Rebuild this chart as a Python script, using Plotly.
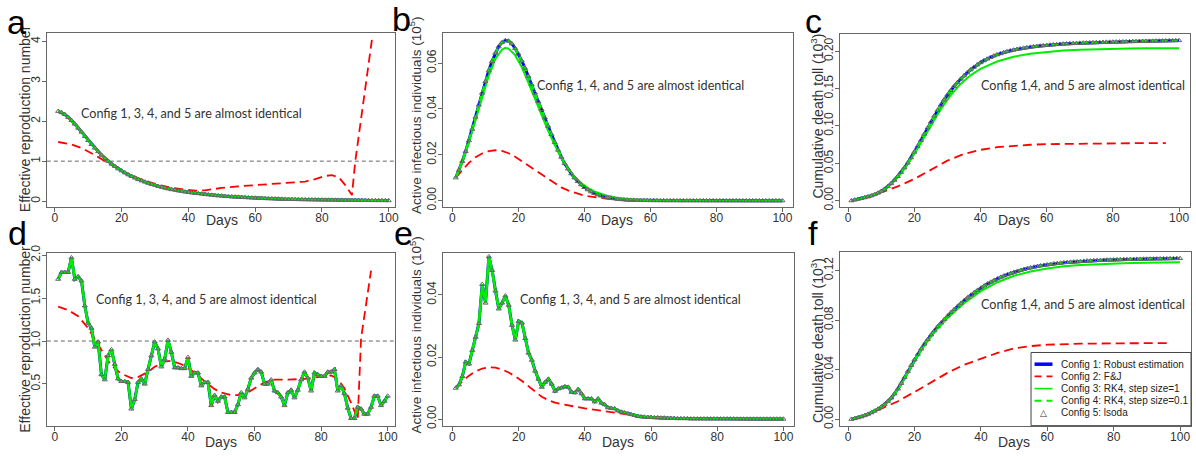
import plotly.graph_objects as go

W, H = 1196, 456

# ---------------- data ----------------
days = list(range(1, 101))

# Panel a: effective reproduction number (smooth scenario)
a_cfg1 = [2.25, 2.22, 2.17, 2.10, 2.02, 1.93, 1.83, 1.73, 1.62, 1.52,
          1.42, 1.33, 1.24, 1.15, 1.07, 1.00, 0.93, 0.87, 0.81, 0.76,
          0.71, 0.66, 0.62, 0.58, 0.54, 0.51, 0.48, 0.45, 0.42, 0.40,
          0.37, 0.35, 0.33, 0.31, 0.29, 0.28, 0.26, 0.25, 0.23, 0.22,
          0.21, 0.20, 0.19, 0.18, 0.17, 0.16, 0.15, 0.14, 0.135, 0.13,
          0.12, 0.115, 0.11, 0.105, 0.10, 0.095, 0.09, 0.085, 0.08, 0.076,
          0.072, 0.068, 0.065, 0.062, 0.059, 0.056, 0.053, 0.05, 0.048, 0.046,
          0.044, 0.042, 0.04, 0.038, 0.036, 0.034, 0.033, 0.032, 0.03, 0.029,
          0.028, 0.027, 0.026, 0.025, 0.024, 0.023, 0.022, 0.021, 0.02, 0.02,
          0.019, 0.018, 0.018, 0.017, 0.016, 0.016, 0.015, 0.015, 0.014, 0.014]
a_cfg2_days = [1, 5, 8, 10, 12, 15, 18, 20, 25, 30, 35, 40, 42, 45, 50, 55, 60, 65,
               70, 75, 78, 81, 83, 85, 87, 89, 90, 95]
a_cfg2 = [1.48, 1.42, 1.33, 1.25, 1.15, 1.0, 0.85, 0.76, 0.57, 0.43, 0.33, 0.27, 0.26,
          0.27, 0.33, 0.37, 0.40, 0.43, 0.45, 0.49, 0.55, 0.63, 0.65, 0.60, 0.40, 0.15,
          1.0, 4.05]

# Panel b: active infectious individuals (10^5)
b_cfg1 = [0.0100, 0.0133, 0.0172, 0.0215, 0.0262, 0.0312, 0.0365, 0.0418, 0.0470, 0.0520,
          0.0567, 0.0608, 0.0644, 0.0672, 0.0690, 0.0699, 0.0697, 0.0685, 0.0665, 0.0640,
          0.0610, 0.0578, 0.0543, 0.0507, 0.0470, 0.0433, 0.0398, 0.0362, 0.0325, 0.0289,
          0.0254, 0.0221, 0.0190, 0.0162, 0.0139, 0.0118, 0.0100, 0.0084, 0.0070, 0.0058,
          0.0048, 0.0039, 0.0032, 0.0026, 0.0021, 0.0017, 0.0014, 0.0011, 0.0009, 0.0007,
          0.00052, 0.00042, 0.00034, 0.00027, 0.00022, 0.00018, 0.00014, 0.00011, 0.00009, 0.00007,
          0.00006, 0.00005, 0.00004, 0.00003, 0.00003, 0.00002, 0.00002, 0.00002, 0.00001, 0.00001,
          0.00001, 0.00001, 0.00001, 0.00001, 0.00001, 0.0, 0.0, 0.0, 0.0, 0.0,
          0.0, 0.0, 0.0, 0.0, 0.0, 0.0, 0.0, 0.0, 0.0, 0.0,
          0.0, 0.0, 0.0, 0.0, 0.0, 0.0, 0.0, 0.0, 0.0, 0.0]
b_cfg3_days = [1, 3, 5, 7, 9, 11, 13, 15, 16, 17, 19, 21, 23, 25, 27, 29, 31, 33, 35, 37,
               39, 41, 43, 45, 47, 50, 55, 60, 70, 80, 100]
b_cfg3 = [0.010, 0.0168, 0.0255, 0.0352, 0.0452, 0.0545, 0.0618, 0.0659, 0.0667, 0.0663,
          0.0635, 0.0583, 0.0515, 0.0443, 0.0373, 0.0305, 0.0243, 0.0188, 0.0142, 0.0105,
          0.0077, 0.0056, 0.0040, 0.0029, 0.0021, 0.0012, 0.0005, 0.0002, 0.00004, 0.00001, 0.0]
b_cfg2_days = [1, 3, 5, 7, 9, 11, 13, 15, 17, 19, 21, 23, 25, 27, 29, 31, 33, 35, 37, 39,
               41, 43, 45, 47, 50, 55, 60, 70, 80, 95]
b_cfg2 = [0.010, 0.0135, 0.0165, 0.019, 0.0206, 0.0216, 0.022, 0.0217, 0.0207, 0.0192,
          0.0173, 0.0153, 0.0133, 0.0113, 0.0094, 0.0075, 0.0058, 0.0045, 0.0034, 0.0026,
          0.0020, 0.0015, 0.0011, 0.0008, 0.0005, 0.00025, 0.00012, 0.00004, 0.00001, 0.0]

# Panel c: cumulative death toll (10^3)
c_cfg1 = [0.000, 0.001, 0.002, 0.003, 0.004, 0.0052, 0.0066, 0.0082, 0.0102, 0.0126,
          0.0155, 0.019, 0.023, 0.0275, 0.0325, 0.038, 0.044, 0.0505, 0.0575, 0.065,
          0.0728, 0.0808, 0.089, 0.0972, 0.1053, 0.1132, 0.1208, 0.1281, 0.135, 0.1415,
          0.1475, 0.153, 0.158, 0.1628, 0.1672, 0.1713, 0.1751, 0.1786, 0.1818, 0.1847,
          0.1873, 0.1896, 0.1917, 0.1936, 0.1953, 0.1968, 0.1982, 0.1995, 0.2006, 0.2016,
          0.2025, 0.2033, 0.2041, 0.2048, 0.2054, 0.206, 0.2065, 0.207, 0.2075, 0.2079,
          0.2083, 0.2087, 0.209, 0.2093, 0.2096, 0.2099, 0.2101, 0.2104, 0.2106, 0.2108,
          0.211, 0.2112, 0.2114, 0.2115, 0.2117, 0.2118, 0.212, 0.2121, 0.2122, 0.2123,
          0.2124, 0.2125, 0.2126, 0.2127, 0.2128, 0.2129, 0.213, 0.2131, 0.2132, 0.2133,
          0.2134, 0.2135, 0.2136, 0.2137, 0.2138, 0.2139, 0.214, 0.2141, 0.2142, 0.2143]
c_cfg3_days = [1, 5, 10, 13, 16, 19, 22, 25, 28, 31, 34, 37, 40, 45, 50, 55, 60, 65, 70,
               75, 80, 85, 90, 95, 100]
c_cfg3 = [0.0, 0.0039, 0.0122, 0.0222, 0.0365, 0.0553, 0.0772, 0.1005, 0.1225, 0.1412,
          0.1562, 0.1677, 0.1762, 0.1862, 0.1925, 0.1965, 0.1992, 0.2009, 0.2020, 0.2028,
          0.2033, 0.2036, 0.2038, 0.2039, 0.2040]
c_cfg2_days = [1, 5, 10, 15, 20, 25, 30, 35, 40, 45, 50, 55, 60, 70, 80, 90, 96]
c_cfg2 = [0.0, 0.004, 0.011, 0.019, 0.029, 0.0415, 0.0535, 0.0625, 0.068, 0.0715,
          0.0735, 0.0748, 0.0756, 0.0764, 0.0768, 0.077, 0.0771]

# Panel d: effective reproduction number (noisy scenario)
d_cfg1 = [1.72, 1.80, 1.80, 1.80, 1.97, 1.72, 1.75, 1.70, 1.41, 1.21,
          1.15, 0.93, 0.99, 0.61, 0.55, 0.83, 0.90, 0.73, 0.56, 0.53,
          0.53, 0.52, 0.21, 0.32, 0.52, 0.56, 0.50, 0.67, 0.83, 0.99,
          0.91, 0.70, 0.79, 1.01, 0.87, 0.69, 0.69, 0.68, 0.68, 0.81,
          0.59, 0.63, 0.63, 0.48, 0.52, 0.52, 0.25, 0.37, 0.30, 0.35,
          0.35, 0.17, 0.17, 0.17, 0.26, 0.40, 0.34, 0.44, 0.57, 0.63,
          0.67, 0.64, 0.50, 0.50, 0.55, 0.42, 0.40, 0.35, 0.25, 0.40,
          0.43, 0.34, 0.43, 0.55, 0.64, 0.57, 0.42, 0.63, 0.61, 0.59,
          0.59, 0.64, 0.64, 0.67, 0.42, 0.48, 0.39, 0.22, 0.10, 0.10,
          0.23, 0.21, 0.15, 0.15, 0.23, 0.36, 0.36, 0.25, 0.30, 0.36]
d_cfg2_days = [1, 4, 7, 10, 12, 14, 16, 18, 20, 23, 25, 28, 30, 33, 35, 38, 40, 43, 45,
               48, 50, 53, 55, 58, 60, 63, 66, 70, 75, 80, 83, 85, 87, 89, 91, 92, 95]
d_cfg2 = [1.40, 1.36, 1.29, 1.15, 1.02, 0.89, 0.77, 0.68, 0.62, 0.57, 0.58, 0.64, 0.70,
          0.76, 0.77, 0.73, 0.69, 0.60, 0.53, 0.44, 0.40, 0.37, 0.37, 0.40, 0.45, 0.52,
          0.55, 0.55, 0.56, 0.58, 0.60, 0.56, 0.45, 0.28, 0.09, 1.03, 1.82]

# Panel e: active infectious individuals (noisy scenario)
e_cfg1 = [0.0100, 0.0111, 0.0138, 0.0184, 0.0178, 0.0222, 0.0264, 0.0308, 0.0434, 0.0374,
          0.0523, 0.0479, 0.0413, 0.0355, 0.0374, 0.0397, 0.0367, 0.0302, 0.0255, 0.0315,
          0.0310, 0.0260, 0.0213, 0.0190, 0.0155, 0.0129, 0.0103, 0.0119, 0.0129, 0.0113,
          0.0090, 0.0098, 0.0101, 0.0105, 0.0103, 0.0087, 0.0085, 0.0096, 0.0082, 0.0066,
          0.0066, 0.0066, 0.0056, 0.0066, 0.0052, 0.0047, 0.0037, 0.0035, 0.0034, 0.0027,
          0.0023, 0.0021, 0.0018, 0.0015, 0.0012, 0.0009, 0.0008, 0.0007, 0.0006, 0.0006,
          0.0005, 0.0005, 0.0004, 0.0004, 0.0003, 0.0003, 0.0003, 0.0002, 0.0002, 0.0002,
          0.0002, 0.0001, 0.0001, 0.0001, 0.0001, 0.0001, 0.0001, 0.0001, 0.0001, 0.0001,
          0.0001, 0.0001, 0.0001, 0.0001, 0.0001, 0.00005, 0.00005, 0.00005, 0.00005, 0.00005,
          0.00005, 0.00005, 0.00005, 0.00005, 0.00005, 0.00005, 0.00005, 0.00005, 0.00005, 0.00005]
e_cfg2_days = [1, 3, 5, 7, 9, 11, 13, 15, 17, 19, 21, 23, 25, 27, 29, 31, 33, 36, 40, 45,
               50, 55, 60, 65, 70, 80, 95]
e_cfg2 = [0.01, 0.0122, 0.014, 0.0154, 0.0163, 0.0167, 0.0166, 0.016, 0.015, 0.0138,
          0.0123, 0.0107, 0.0089, 0.0072, 0.0061, 0.0053, 0.0048, 0.0042, 0.0035, 0.0027,
          0.0019, 0.0012, 0.0007, 0.0004, 0.0002, 0.0001, 0.00003]

# Panel f: cumulative death toll (noisy scenario)
f_cfg1 = [0.0, 0.0006, 0.0013, 0.002, 0.003, 0.0041, 0.0053, 0.0066, 0.0082, 0.01,
          0.0121, 0.0145, 0.0172, 0.0205, 0.0245, 0.029, 0.0338, 0.0387, 0.0435, 0.0481,
          0.0525, 0.0567, 0.0607, 0.0645, 0.0681, 0.0715, 0.0747, 0.0777, 0.0806, 0.0834,
          0.0861, 0.0887, 0.0912, 0.0936, 0.0959, 0.0981, 0.1002, 0.1022, 0.1041, 0.1059,
          0.1076, 0.1092, 0.1107, 0.1121, 0.1134, 0.1146, 0.1157, 0.1167, 0.1177, 0.1186,
          0.1194, 0.1202, 0.1209, 0.1216, 0.1222, 0.1228, 0.1233, 0.1238, 0.1242, 0.1246,
          0.125, 0.1254, 0.1257, 0.126, 0.1263, 0.1265, 0.1267, 0.1269, 0.1271, 0.1273,
          0.1275, 0.1277, 0.1278, 0.128, 0.1281, 0.1282, 0.1283, 0.1284, 0.1285, 0.1286,
          0.1287, 0.1288, 0.1289, 0.1289, 0.129, 0.129, 0.1291, 0.1291, 0.1292, 0.1292,
          0.1293, 0.1293, 0.1294, 0.1294, 0.1295, 0.1295, 0.1296, 0.1296, 0.1297, 0.1297]
f_cfg3_days = [1, 5, 10, 12, 15, 17, 20, 22, 25, 27, 30, 32, 35, 40, 45, 50, 55, 60, 65,
               70, 75, 80, 85, 90, 95, 100]
f_cfg3 = [0.0, 0.003, 0.0098, 0.014, 0.0238, 0.0326, 0.047, 0.0554, 0.0668, 0.0732,
          0.0818, 0.0868, 0.0937, 0.1033, 0.1105, 0.1157, 0.1192, 0.1216, 0.1233, 0.1243,
          0.125, 0.1256, 0.126, 0.1262, 0.1264, 0.1266]
f_cfg2_days = [1, 5, 10, 15, 20, 25, 30, 35, 40, 45, 50, 55, 60, 65, 70, 80, 90, 96]
f_cfg2 = [0.0, 0.003, 0.0085, 0.0145, 0.022, 0.03, 0.0375, 0.044, 0.049, 0.0535, 0.0572,
          0.059, 0.0601, 0.0606, 0.0609, 0.0612, 0.0613, 0.0614]

x_ticks = [0, 20, 40, 60, 80, 100]
reference_rt = 1.0

series_names = ["Config 1: Robust estimation", "Config 2: F&J",
                "Config 3: RK4, step size=1", "Config 4: RK4, step size=0.1",
                "Config 5: lsoda"]

# ---------------- styling ----------------
FONT = "Liberation Sans, Arial, sans-serif"
NOTE_FONT = "Lato, Liberation Sans, sans-serif"
BLUE, RED, GREEN, GREY = "#0000FF", "#FF0000", "#00EE00", "#666666"
AXCOL, TXT = "#666666", "#333333"


def pxx(x):
    return x / W


def pxy(y):
    return 1 - y / H


panels = [
    dict(letter="a", box=(47, 396, 26, 204), xr=[-2.4, 101.8], yr=[-0.15, 4.2],
         yt=[0, 1, 2, 3, 4], fmt="d", ytitle="Effective reproduction number",
         c1=a_cfg1, c2=(a_cfg2_days, a_cfg2), c3=(days, a_cfg1), ref=True, g3w=2.5,
         note="Config 1, 3, 4, and 5 are almost identical", note_xy=(192, 108),
         letter_xy=(5, 14), yt_xy=(25, 113), yt_size=14, dayy=217),
    dict(letter="b", box=(444, 796, 26, 204), xr=[-3.0, 103.3], yr=[-0.0028, 0.073],
         yt=[0, 0.02, 0.04, 0.06], fmt=".2f",
         ytitle="Active infectious individuals (10<sup>5</sup>)",
         c1=b_cfg1, c2=(b_cfg2_days, b_cfg2), c3=(b_cfg3_days, b_cfg3), ref=False, g3w=2,
         note="Config 1, 4, and 5 are almost identical", note_xy=(643, 79),
         letter_xy=(391, 11), yt_xy=(417, 110), yt_size=13.5, dayy=217),
    dict(letter="c", box=(843, 1194, 27, 204), xr=[-2.4, 103.3], yr=[-0.0086, 0.2225],
         yt=[0, 0.05, 0.10, 0.15, 0.20], fmt=".2f",
         ytitle="Cumulative death toll (10<sup>3</sup>)",
         c1=c_cfg1, c2=(c_cfg2_days, c_cfg2), c3=(c_cfg3_days, c_cfg3), ref=False, g3w=2,
         note="Config 1,4, and 5 are almost identical", note_xy=(1087, 79),
         letter_xy=(806, 13), yt_xy=(820, 111), yt_size=14, dayy=217),
    dict(letter="d", box=(47, 396, 251, 428), xr=[-2.4, 102.1], yr=[0.015, 2.025],
         yt=[0.5, 1.0, 1.5, 2.0], fmt=".1f", ytitle="Effective reproduction number",
         c1=d_cfg1, c2=(d_cfg2_days, d_cfg2), c3=(days, d_cfg1), ref=True, g3w=2.5,
         note="Config 1, 3, 4, and 5 are almost identical", note_xy=(207, 299),
         letter_xy=(6, 231), yt_xy=(25, 339), yt_size=14, dayy=445),
    dict(letter="e", box=(444, 797, 251, 428), xr=[-3.0, 103.3], yr=[-0.0021, 0.0535],
         yt=[0, 0.02, 0.04], fmt=".2f",
         ytitle="Active infectious individuals (10<sup>5</sup>)",
         c1=e_cfg1, c2=(e_cfg2_days, e_cfg2), c3=(days, e_cfg1), ref=False, g3w=2.5,
         note="Config 1, 3, 4, and 5 are almost identical", note_xy=(633, 299),
         letter_xy=(393, 231), yt_xy=(417, 335), yt_size=13.5, dayy=445),
    dict(letter="f", box=(843, 1195, 250, 428), xr=[-2.4, 103.3], yr=[-0.0052, 0.1349],
         yt=[0, 0.04, 0.08, 0.12], fmt=".2f",
         ytitle="Cumulative death toll (10<sup>3</sup>)",
         c1=f_cfg1, c2=(f_cfg2_days, f_cfg2), c3=(f_cfg3_days, f_cfg3), ref=False, g3w=2,
         note="Config 1,4, and 5 are almost identical", note_xy=(1087, 304),
         letter_xy=(809, 231), yt_xy=(820, 341), yt_size=14, dayy=445),
]

fig = go.Figure()
layout = dict(width=W, height=H, margin=dict(l=0, r=0, t=0, b=0),
              paper_bgcolor="white", plot_bgcolor="white", showlegend=False)
annotations, shapes = [], []

for i, p in enumerate(panels):
    n = "" if i == 0 else str(i + 1)
    xa, ya = "x" + n, "y" + n
    x0, x1, y0, y1 = p["box"]
    c1 = p["c1"]
    fig.add_trace(go.Scatter(x=days, y=c1, xaxis=xa, yaxis=ya, mode="lines",
                             name=series_names[0], line=dict(color=BLUE, width=3)))
    fig.add_trace(go.Scatter(x=p["c2"][0], y=p["c2"][1], xaxis=xa, yaxis=ya, mode="lines",
                             name=series_names[1],
                             line=dict(color=RED, width=1.8, dash="9px,5px")))
    fig.add_trace(go.Scatter(x=p["c3"][0], y=p["c3"][1], xaxis=xa, yaxis=ya, mode="lines",
                             name=series_names[2], line=dict(color=GREEN, width=p["g3w"])))
    fig.add_trace(go.Scatter(x=days, y=c1, xaxis=xa, yaxis=ya, mode="lines",
                             name=series_names[3],
                             line=dict(color=GREEN, width=2.5, dash="6px,4px")))
    fig.add_trace(go.Scatter(x=days, y=c1, xaxis=xa, yaxis=ya, mode="markers",
                             name=series_names[4],
                             marker=dict(symbol="triangle-up-open", size=4.5, color=GREY,
                                         line=dict(width=1, color=GREY))))
    axis_common = dict(showline=True, mirror=True, linecolor=AXCOL, linewidth=1,
                       ticks="outside", ticklen=4, tickcolor=AXCOL, showgrid=False,
                       zeroline=False, tickfont=dict(family=FONT, size=12, color=TXT))
    layout["xaxis" + n] = dict(domain=[pxx(x0), pxx(x1)], range=p["xr"], anchor=ya,
                               tickvals=x_ticks, ticklabelstandoff=-4, **axis_common)
    layout["yaxis" + n] = dict(domain=[pxy(y1), pxy(y0)], range=p["yr"], anchor=xa,
                               tickvals=p["yt"], tickformat=p["fmt"], tickangle=-90,
                               ticklabelstandoff=-3, **axis_common)
    if p["ref"]:
        shapes.append(dict(type="line", xref=xa + " domain", yref=ya, x0=0, x1=1,
                           y0=reference_rt, y1=reference_rt,
                           line=dict(color="#666666", width=1, dash="4px,3px")))
    # axis titles
    annotations.append(dict(text="Days", xref=xa, yref="paper", x=50, y=pxy(p["dayy"]),
                            xanchor="center", yanchor="middle", showarrow=False,
                            font=dict(family=FONT, size=14, color=TXT)))
    annotations.append(dict(text=p["ytitle"], xref="paper", yref="paper",
                            x=pxx(p["yt_xy"][0]), y=pxy(p["yt_xy"][1]), textangle=-90,
                            xanchor="center", yanchor="middle", showarrow=False,
                            font=dict(family=FONT, size=p["yt_size"], color=TXT)))
    annotations.append(dict(text=p["note"], xref="paper", yref="paper",
                            x=pxx(p["note_xy"][0]), y=pxy(p["note_xy"][1]),
                            xanchor="center", yanchor="middle", showarrow=False,
                            font=dict(family=NOTE_FONT, size=12.6, color=TXT)))
    annotations.append(dict(text=p["letter"], xref="paper", yref="paper",
                            x=pxx(p["letter_xy"][0]), y=pxy(p["letter_xy"][1]),
                            xanchor="left", yanchor="middle", showarrow=False,
                            font=dict(family=FONT, size=34, color="black")))

# ---------------- legend box (panel f) ----------------
lg_x0, lg_x1, lg_y0, lg_y1 = 1034.5, 1195, 353, 428
shapes.append(dict(type="rect", xref="paper", yref="paper", x0=pxx(lg_x0), x1=pxx(lg_x1),
                   y0=pxy(lg_y1), y1=pxy(lg_y0), line=dict(color="#444444", width=1),
                   fillcolor="white", layer="above"))
legend_styles = [dict(color=BLUE, width=3.5, dash="solid"),
                 dict(color=RED, width=1.8, dash="7px,5px"),
                 dict(color=GREEN, width=1.6, dash="solid"),
                 dict(color=GREEN, width=2, dash="7px,5px"),
                 None]
for k, (name, st) in enumerate(zip(series_names, legend_styles)):
    yy = 365 + 12.5 * k
    if st is not None:
        shapes.append(dict(type="line", xref="paper", yref="paper", x0=pxx(1038), x1=pxx(1056),
                           y0=pxy(yy), y1=pxy(yy), line=st, layer="above"))
    else:
        annotations.append(dict(text="△", xref="paper", yref="paper", x=pxx(1047),
                                y=pxy(yy), xanchor="center", yanchor="middle",
                                showarrow=False,
                                font=dict(family="DejaVu Sans", size=9, color="#333333")))
    annotations.append(dict(text=name, xref="paper", yref="paper", x=pxx(1063), y=pxy(yy),
                            xanchor="left", yanchor="middle", showarrow=False,
                            font=dict(family=FONT, size=10, color="#222222")))

layout["annotations"] = annotations
layout["shapes"] = shapes
fig.update_layout(**layout)
fig.write_html("out.html")
